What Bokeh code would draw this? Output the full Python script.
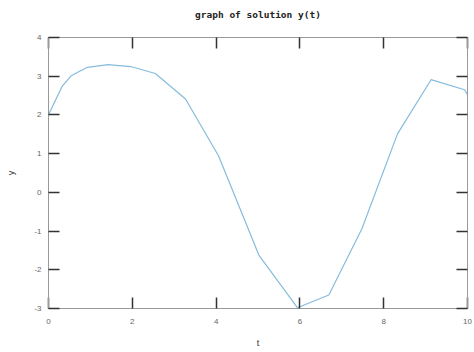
from bokeh.plotting import figure
from bokeh.models import LinearAxis, Range1d, FixedTicker, CustomJSTickFormatter
from bokeh.embed import file_html
from bokeh.resources import INLINE

t = [0.0, 0.32, 0.55, 0.93, 1.42, 1.96, 2.55, 3.27, 4.06, 5.02, 5.94, 6.69, 7.48, 8.33, 9.13, 9.93, 10.0]
y = [2.0, 2.73, 3.02, 3.23, 3.30, 3.25, 3.07, 2.41, 0.94, -1.62, -2.98, -2.65, -0.94, 1.51, 2.91, 2.65, 2.52]
x_ticks = [0, 2, 4, 6, 8, 10]
y_ticks = [-3, -2, -1, 0, 1, 2, 3, 4]
title_text = "graph of solution y(t)"

p = figure(width=474, height=352, output_backend="svg", toolbar_location=None,
           x_range=Range1d(0, 10), y_range=Range1d(-3, 4))
p.min_border_left = 48
p.min_border_right = 7
p.min_border_top = 37
p.min_border_bottom = 44
p.background_fill_color = "white"
p.border_fill_color = "white"
p.outline_line_color = "#999999"
p.grid.visible = False

num_fmt = CustomJSTickFormatter(code="return tick.toString();")
blank_fmt = CustomJSTickFormatter(code="return '';")

def style(ax, ticks, labels=True):
    ax.ticker = FixedTicker(ticks=ticks)
    ax.formatter = num_fmt if labels else blank_fmt
    ax.major_tick_in = 11
    ax.major_tick_out = 0
    ax.minor_tick_in = 0
    ax.minor_tick_out = 0
    ax.major_tick_line_color = "#333333"
    ax.major_tick_line_width = 1.5
    ax.axis_line_color = "#999999"
    ax.major_label_text_font = "Liberation Sans"
    ax.major_label_text_font_size = "8px"
    ax.major_label_text_color = "#666666"
    ax.axis_label_text_font = "Liberation Sans"
    ax.axis_label_text_font_size = "9px"
    ax.axis_label_text_font_style = "normal"
    ax.axis_label_text_color = "#333333"

xa = p.xaxis[0]
ya = p.yaxis[0]
xa.axis_label = "t"
ya.axis_label = "y"
style(xa, x_ticks)
style(ya, y_ticks)
xa.major_label_standoff = 10
xa.axis_label_standoff = 11
ya.major_label_standoff = 7
ya.axis_label_standoff = 15

top = LinearAxis()
right = LinearAxis()
p.add_layout(top, "above")
p.add_layout(right, "right")
style(top, x_ticks, labels=False)
style(right, y_ticks, labels=False)
top.major_label_standoff = 0
top.major_label_text_font_size = "1px"
right.major_label_standoff = 0
top.axis_label = title_text
top.axis_label_text_font = "DejaVu Sans Mono"
top.axis_label_text_font_size = "9.5px"
top.axis_label_text_font_style = "bold"
top.axis_label_text_color = "#222222"
top.axis_label_standoff = 18

p.line(t, y, line_color="#86bbdc", line_width=1.2)

open("out.html", "w").write(file_html(p, INLINE))
